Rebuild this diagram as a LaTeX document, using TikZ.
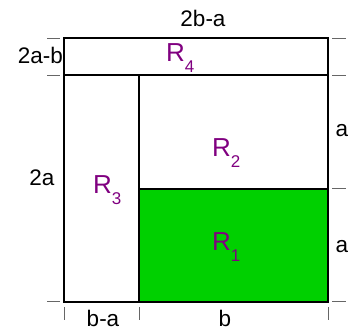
\documentclass[tikz,border=0pt]{standalone}
\usepackage{fontspec}
\setmainfont{Liberation Sans}
\definecolor{rpurple}{RGB}{128,0,128}
\definecolor{rgreen}{RGB}{0,208,0}
\newcommand\Rlab[1]{R\raisebox{-11pt}{\fontsize{17}{17}\selectfont #1}}
\begin{document}
\begin{tikzpicture}[x=1pt,y=-1pt,
  box/.style={line width=1.8pt},
  tickline/.style={draw=black!60, line width=0.9pt},
  dim/.style={font=\fontsize{22.5}{22.5}\selectfont, inner sep=0pt, anchor=base},
  reg/.style={text=rpurple, font=\fontsize{26}{26}\selectfont, inner sep=0pt, anchor=base west}]
\useasboundingbox (0,0) rectangle (351,331);
% regions
\fill[rgreen] (139,189) rectangle (328,302);
\draw[box] (64,38) rectangle (328,302);
\draw[box] (64,75) -- (328,75);
\draw[box] (139,75) -- (139,302);
\draw[box] (139,189) -- (328,189);
% ticks left
\draw[tickline] (47,38) -- (60,38);
\draw[tickline] (47,75) -- (60,75);
\draw[tickline] (47,301) -- (60,301);
% ticks right
\draw[tickline] (332,38) -- (346,38);
\draw[tickline] (332,75) -- (346,75);
\draw[tickline] (332,188) -- (346,188);
\draw[tickline] (332,301) -- (346,301);
% ticks bottom
\draw[tickline] (64,307) -- (64,320);
\draw[tickline] (139,307) -- (139,320);
\draw[tickline] (328,307) -- (328,320);
% dimension labels
\node[dim] (top) at (203,27) {2b-a};
\node[dim, anchor=base east] (lefttop) at (63,64) {2a-b};
\node[dim] (leftmid) at (42,186) {2a};
\node[dim] (rtop) at (342,137) {a};
\node[dim] (rbot) at (342,253) {a};
\node[dim] (bleft) at (103,326.5) {b-a};
\node[dim] (bright) at (225,326.5) {b};
% region labels
\node[reg] (r4) at (166,62) {\Rlab{4}};
\node[reg] (r2) at (212,157) {\Rlab{2}};
\node[reg] (r1) at (212,251) {\Rlab{1}};
\node[reg] (r3) at (93,194) {\Rlab{3}};
\end{tikzpicture}
\end{document}
